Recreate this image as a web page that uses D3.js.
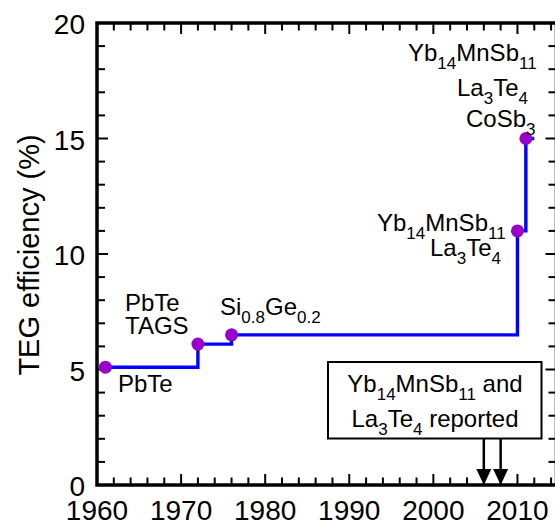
<!DOCTYPE html>
<html><head><meta charset="utf-8">
<script src="https://cdn.jsdelivr.net/npm/d3@7"></script>
<style>body{margin:0;background:#fff}svg{display:block}text{font-family:"Liberation Sans",Arial,sans-serif;fill:#000}</style>
</head><body><svg id="c" width="555" height="521"></svg>
<script>
// data
const years = [1961, 1972, 1976, 2010, 2011];
const efficiency = [5.1, 6.1, 6.5, 11, 15];
const lastYear = 2012;
const reportedYears = [2006, 2008];
const xTicks = [1960, 1970, 1980, 1990, 2000, 2010];
const yTicks = [0, 5, 10, 15, 20];
const yTitle = "TEG efficiency (%)";

const svg = d3.select("#c");
const x = d3.scaleLinear().domain([1960, 2015]).range([97, 559.5]);
const y = d3.scaleLinear().domain([0, 20]).range([485, 23]);
const X0 = 97, X1 = 556.5, Y0 = 485, Y1 = 23;

// minor/major ticks
const xMinor = d3.range(1960, 2016, 2);
const yMinor = d3.range(0, 21, 1);
const g = svg.append("g").attr("stroke", "#000").attr("stroke-width", 2);
xMinor.forEach(v => {
  const major = v % 10 === 0, L = major ? 11 : 7.5;
  g.append("line").attr("x1", x(v)).attr("x2", x(v)).attr("y1", Y0).attr("y2", Y0 - L);
  g.append("line").attr("x1", x(v)).attr("x2", x(v)).attr("y1", Y1).attr("y2", Y1 + L);
});
yMinor.forEach(v => {
  const major = v % 5 === 0, L = major ? 11 : 8;
  g.append("line").attr("y1", y(v)).attr("y2", y(v)).attr("x1", X0).attr("x2", X0 + L);
  g.append("line").attr("y1", y(v)).attr("y2", y(v)).attr("x1", X1).attr("x2", X1 - L);
});
svg.append("rect").attr("x", X0).attr("y", Y1).attr("width", X1 - X0).attr("height", Y0 - Y1)
  .attr("fill", "none").attr("stroke", "#000").attr("stroke-width", 3.5);

// tick labels
svg.append("g").selectAll("text").data(xTicks).join("text")
  .attr("x", d => x(d)).attr("y", 520).attr("text-anchor", "middle").attr("font-size", 28).text(d => d);
svg.append("g").selectAll("text").data(yTicks).join("text")
  .attr("x", 85).attr("y", d => y(d) + 11).attr("text-anchor", "end").attr("font-size", 28).text(d => d);
svg.append("text").attr("transform", "translate(39,255) rotate(-90)").attr("text-anchor", "middle")
  .attr("font-size", 29).text(yTitle);

// step line
const pts = years.map((yr, i) => [yr, efficiency[i]]).concat([[lastYear, efficiency[efficiency.length - 1]]]);
svg.append("path").datum(pts)
  .attr("d", d3.line().x(d => x(d[0])).y(d => y(d[1])).curve(d3.curveStepAfter))
  .attr("fill", "none").attr("stroke", "#0000ff").attr("stroke-width", 3.4);
svg.append("g").selectAll("circle").data(years).join("circle")
  .attr("cx", d => x(d)).attr("cy", (d, i) => y(efficiency[i])).attr("r", 6.5).attr("fill", "#9900cc");

// annotations: parts [text, isSub]
function label(px, py, parts, anchor) {
  const t = svg.append("text").attr("x", px).attr("y", py).attr("font-size", 24)
    .attr("text-anchor", anchor || "start");
  parts.forEach(([s, sub], i) => {
    const ts = t.append("tspan").text(s);
    if (sub) ts.attr("font-size", 17).attr("dy", 8);
    else if (i > 0 && parts[i - 1][1]) ts.attr("dy", -8);
  });
  return t;
}
const YbMn = [["Yb"], ["14", 1], ["MnSb"], ["11", 1]];
const LaTe = [["La"], ["3", 1], ["Te"], ["4", 1]];
label(118, 392, [["PbTe"]]);
label(125, 311, [["PbTe"]]);
label(125, 334, [["TAGS"]]);
label(220, 315, [["Si"], ["0.8", 1], ["Ge"], ["0.2", 1]]);
label(377, 231, YbMn);
label(430, 256, LaTe);
label(408, 61, YbMn);
label(457, 96, LaTe);
label(466, 127, [["CoSb"], ["3", 1]]);

// reported box and arrows
svg.append("rect").attr("x", 328).attr("y", 362).attr("width", 213.5).attr("height", 76.5)
  .attr("fill", "#fff").attr("stroke", "#000").attr("stroke-width", 2);
label(435, 392, YbMn.concat([[" and"]]), "middle");
label(435, 427, LaTe.concat([[" reported"]]), "middle");
reportedYears.forEach(yr => {
  const cx = x(yr);
  svg.append("line").attr("x1", cx).attr("x2", cx).attr("y1", 438.5).attr("y2", 472)
    .attr("stroke", "#000").attr("stroke-width", 2.5);
  svg.append("path").attr("d", `M${cx - 7.5},469 L${cx + 7.5},469 L${cx},485 Z`).attr("fill", "#000");
});
</script></body></html>
